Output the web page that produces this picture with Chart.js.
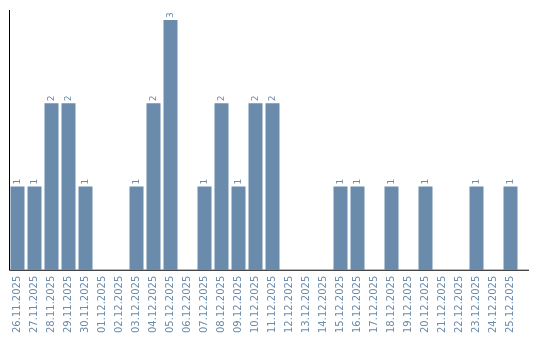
<!DOCTYPE html>
<html>
<head>
<meta charset="utf-8">
<script src="https://cdn.jsdelivr.net/npm/chart.js@4"></script>
<style>
  body { margin: 0; background: #fff; }
  canvas { display: block; }
</style>
</head>
<body>
<canvas id="myChart" width="540" height="340"></canvas>
<script>
// Dates on the x axis
var days = [
    '26.11.2025', '27.11.2025', '28.11.2025', '29.11.2025', '30.11.2025',
    '01.12.2025', '02.12.2025', '03.12.2025', '04.12.2025', '05.12.2025',
    '06.12.2025', '07.12.2025', '08.12.2025', '09.12.2025', '10.12.2025',
    '11.12.2025', '12.12.2025', '13.12.2025', '14.12.2025', '15.12.2025',
    '16.12.2025', '17.12.2025', '18.12.2025', '19.12.2025', '20.12.2025',
    '21.12.2025', '22.12.2025', '23.12.2025', '24.12.2025', '25.12.2025'
];

// Count per day
var counts = [1, 1, 2, 2, 1, 0, 0, 1, 2, 3, 0, 1, 2, 1, 2, 2, 0, 0, 0, 1, 1, 0, 1, 0, 1, 0, 0, 1, 0, 1];

var barColor = '#6a8bab';
var textColor = '#6a8bab';

// Draws the axis lines and the numbers above the bars
var barLabels = {
    id: 'barLabels',
    afterDatasetsDraw: function(chart) {
        var ctx = chart.ctx;
        var area = chart.chartArea;
        ctx.save();
        ctx.strokeStyle = '#000';
        ctx.lineWidth = 1;
        ctx.beginPath();
        ctx.moveTo(area.left + 0.5, area.top);
        ctx.lineTo(area.left + 0.5, area.bottom + 0.5);
        ctx.lineTo(area.right + 10, area.bottom + 0.5);
        ctx.stroke();

        ctx.fillStyle = textColor;
        ctx.font = '9px "DejaVu Sans"';
        ctx.textAlign = 'left';
        ctx.textBaseline = 'middle';
        var meta = chart.getDatasetMeta(0);
        meta.data.forEach(function(bar, i) {
            var v = counts[i];
            if (!v) return;
            ctx.save();
            ctx.translate(bar.x, bar.y - 2);
            ctx.rotate(-Math.PI / 2);
            ctx.fillText(String(v), 0, 0);
            ctx.restore();
        });
        ctx.restore();
    }
};

var ctx = document.getElementById('myChart').getContext('2d');
var myChart = new Chart(ctx, {
    type: 'bar',
    data: {
        labels: days,
        datasets: [{
            data: counts,
            backgroundColor: barColor,
            borderWidth: 0,
            barPercentage: 1,
            categoryPercentage: 14 / 17
        }]
    },
    options: {
        responsive: false,
        animation: false,
        layout: { padding: { left: 9, right: 21, top: 10, bottom: 1 } },
        plugins: {
            legend: { display: false },
            tooltip: { enabled: false }
        },
        scales: {
            x: {
                grid: { display: false, drawTicks: false },
                border: { display: false },
                ticks: {
                    color: textColor,
                    font: { family: 'DejaVu Sans', size: 10 },
                    minRotation: 90,
                    maxRotation: 90,
                    autoSkip: false,
                    padding: 6
                }
            },
            y: {
                display: false,
                min: 0,
                max: 3.12
            }
        }
    },
    plugins: [barLabels]
});
</script>
</body>
</html>
